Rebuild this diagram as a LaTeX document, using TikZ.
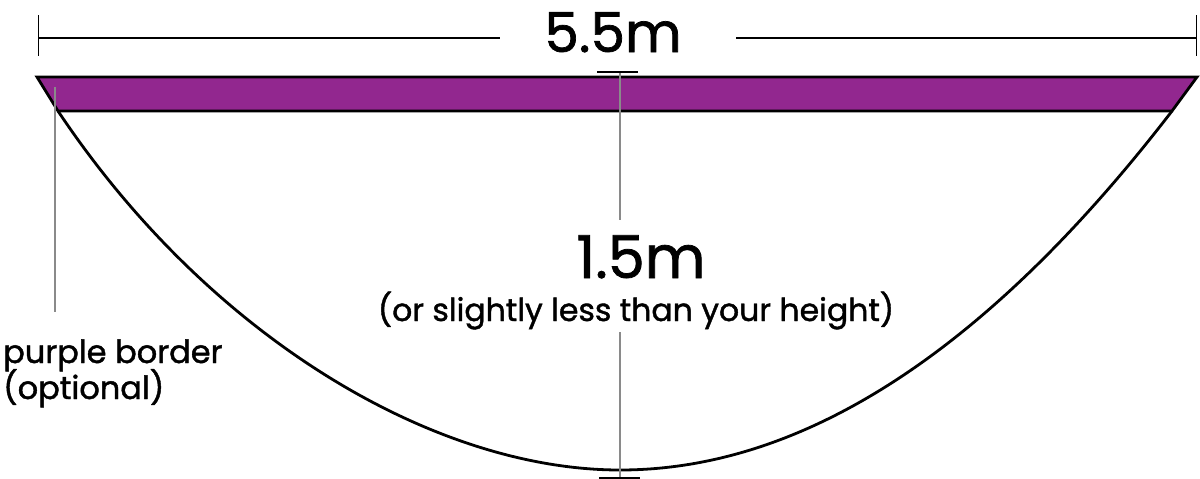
\documentclass[tikz,border=0pt]{standalone}
\usepackage{fontspec}
\setmainfont[FakeBold=1.3]{Poppins}
\definecolor{bandpurple}{HTML}{92278F}
\definecolor{leadgray}{HTML}{8A8A8A}
\begin{document}
\begin{tikzpicture}[x=1pt,y=-1pt,
  outline/.style={draw=black,line width=2.8pt,line join=miter},
  dimline/.style={draw=black,line width=1.5pt},
  guide/.style={draw=leadgray,line width=1.6pt},
  lbl/.style={inner sep=0pt,anchor=base,text=black}]
\useasboundingbox (0,0) rectangle (1200,479);
% coordinates
\coordinate (TL) at (37,77);
\coordinate (TR) at (1197,77);
\coordinate (BR) at (1172,111);
\coordinate (BL) at (58,111);
\coordinate (V) at (620,470);
% purple band
\fill[bandpurple] (TL) -- (TR) -- (BR) -- (BL) -- cycle;
% net curve
\draw[outline] (BL) .. controls (208,336) and (433,470) .. (V)
  .. controls (804,470) and (988,350) .. (BR);
\draw[outline] (BL) -- (TL) -- (TR) -- (BR) -- cycle;
% top dimension
\coordinate (DL) at (38.5,38);
\coordinate (DR) at (1196.5,38);
\coordinate (DLg) at (500,38);
\coordinate (DRg) at (736,38);
\draw[dimline] (38.5,15) -- (38.5,56);
\draw[dimline] (1196.5,15) -- (1196.5,56);
\draw[dimline] (DL) -- (DLg);
\draw[dimline] (DRg) -- (DR);
\node[lbl,font=\fontsize{55}{55}\selectfont] (w) at (613,52) {5.5m};
% vertical depth guide
\coordinate (VT) at (620,72);
\coordinate (VTg) at (620,220);
\coordinate (VBg) at (620,332);
\coordinate (VB) at (620,478);
\draw[guide] (VT) -- (VTg);
\draw[guide] (VBg) -- (VB);
\draw[dimline] (597,72) -- (638,72);
\draw[dimline] (599,478) -- (640,478);
\node[lbl,font=\fontsize{59}{59}\selectfont] (h) at (641,278) {1.5m};
\node[lbl,font=\fontsize{31.5}{31.5}\selectfont] (hn) at (636,321) {(or slightly less than your height)};
% border leader
\coordinate (LT) at (55,87);
\coordinate (LB) at (55,312);
\draw[guide] (LT) -- (LB);
\node[lbl,anchor=base west,font=\fontsize{32}{32}\selectfont] (pb) at (3,363) {purple border};
\node[lbl,anchor=base west,font=\fontsize{32}{32}\selectfont] (op) at (3,399) {(optional)};
\end{tikzpicture}
\end{document}
